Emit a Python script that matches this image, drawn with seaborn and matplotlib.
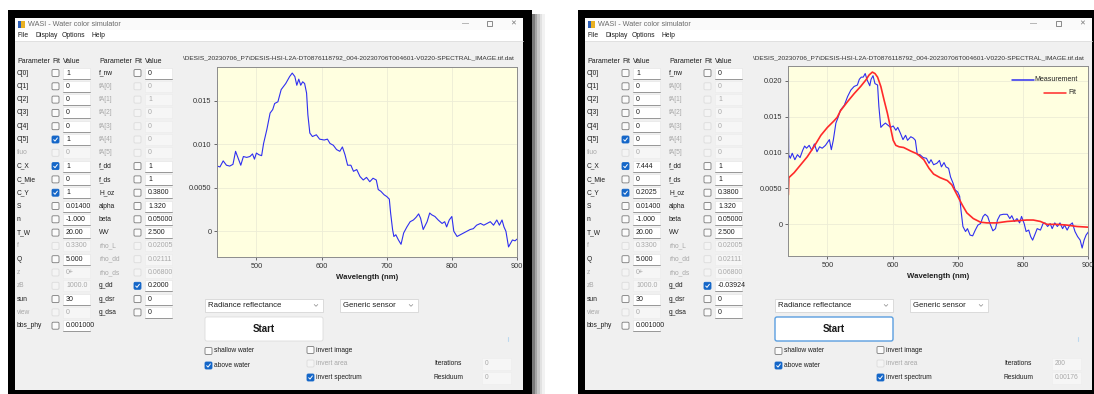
import numpy as np
import pandas as pd
import matplotlib
matplotlib.use("Agg")
import matplotlib.pyplot as plt
from matplotlib.patches import Rectangle, FancyBboxPatch
from matplotlib.lines import Line2D
import seaborn as sns

sns.set_theme(style="white")
plt.rcParams["font.family"] = ["Liberation Sans", "DejaVu Sans"]

# ---------------- spectra ----------------
# first run: measured spectrum only
wl_meas_a = [439.4, 439.6, 439.9, 444, 449, 454, 459, 464, 468, 472, 476, 480, 485, 490, 494, 497,
             500, 504, 508, 511, 516, 521, 525, 528, 533, 538, 545, 551, 555, 559, 562, 565, 568,
             571, 574, 577, 579, 582, 586, 592, 597, 604, 609, 613, 618, 623, 628, 632, 636, 640,
             645, 649, 654, 659, 664, 669, 674, 679, 684, 687, 691, 696, 700, 704, 706, 709, 711,
             714, 718, 722, 726, 731, 736, 741, 745, 749, 752, 756, 762, 766, 769, 774, 779, 785,
             789, 792, 796, 800, 803, 808, 813, 818, 823, 828, 833, 838, 844, 849, 854, 859, 864,
             869, 873, 877, 880, 883, 887, 890, 893, 897, 900]
r_meas_a = [0.0172, 0.0135, 0.0075, 0.0074, 0.0081, 0.0076, 0.0075, 0.0077, 0.0092, 0.0084, 0.0076,
            0.0086, 0.0085, 0.0086, 0.0089, 0.0083, 0.0090, 0.0088, 0.0087, 0.0101, 0.0117, 0.0136,
            0.0140, 0.0147, 0.0149, 0.0163, 0.0170, 0.0178, 0.0182, 0.0178, 0.0168, 0.0175, 0.0168,
            0.0172, 0.0170, 0.0159, 0.0134, 0.0113, 0.0109, 0.0111, 0.0106, 0.0105, 0.0106, 0.0101,
            0.0099, 0.0094, 0.0092, 0.0097, 0.0088, 0.0076, 0.0076, 0.0069, 0.0071, 0.0063, 0.0059,
            0.0062, 0.0057, 0.0061, 0.0059, 0.0048, 0.0046, 0.0042, 0.0040, 0.0037, 0.0021, 0.0002,
            -0.0006, -0.0004, -0.0010, -0.0015, -0.0002, 0.0005, 0.0011, 0.0013, 0.0016, 0.0020,
            0.0015, 0.0002, 0.0011, 0.0021, 0.0019, 0.0017, 0.0013, 0.0009, 0.0011, 0.0005, 0.0013,
            0.0017, 0.0000, -0.0006, -0.0004, -0.0002, 0.0000, 0.0002, 0.0003, 0.0007, 0.0009,
            0.0007, 0.0009, 0.0011, 0.0007, 0.0013, 0.0007, 0.0013, 0.0005, 0.0000, -0.0018,
            -0.0014, -0.0010, -0.0011, -0.0009]

# second run: measured spectrum and model fit
wl_meas_b = [440.1, 440.3, 440.6, 443, 446, 450, 454, 458, 462, 465, 468, 472, 476, 480, 484, 488,
             492, 497, 503, 506, 509, 513, 516, 520, 526, 531, 536, 541, 546, 549, 552, 555, 558,
             561, 565, 567, 570, 573, 577, 579, 582, 585, 589, 593, 597, 601, 605, 608, 612, 616,
             620, 623, 628, 632, 635, 638, 642, 647, 652, 656, 659, 663, 668, 672, 675, 679, 682,
             686, 689, 693, 696, 700, 703, 705, 708, 712, 715, 719, 723, 727, 731, 735, 739, 742,
             746, 750, 754, 758, 761, 765, 770, 776, 780, 783, 787, 791, 795, 798, 802, 805, 809,
             812, 815, 819, 822, 827, 831, 834, 838, 842, 845, 849, 853, 857, 861, 864, 868, 872,
             876, 880, 884, 888, 891, 894, 897, 901]
r_meas_b = [0.0201, 0.0159, 0.0097, 0.0092, 0.0099, 0.0090, 0.0097, 0.0093, 0.0103, 0.0109, 0.0106,
            0.0110, 0.0103, 0.0112, 0.0101, 0.0108, 0.0106, 0.0110, 0.0118, 0.0104, 0.0117, 0.0141,
            0.0148, 0.0159, 0.0166, 0.0178, 0.0187, 0.0192, 0.0194, 0.0202, 0.0205, 0.0205, 0.0210,
            0.0201, 0.0193, 0.0202, 0.0207, 0.0196, 0.0194, 0.0164, 0.0135, 0.0138, 0.0141, 0.0138,
            0.0135, 0.0137, 0.0131, 0.0135, 0.0127, 0.0118, 0.0124, 0.0117, 0.0122, 0.0120, 0.0117,
            0.0097, 0.0097, 0.0093, 0.0092, 0.0085, 0.0090, 0.0083, 0.0085, 0.0089, 0.0080, 0.0086,
            0.0080, 0.0078, 0.0066, 0.0057, 0.0048, 0.0045, 0.0039, 0.0020, -0.0003, -0.0010,
            -0.0006, -0.0015, -0.0016, -0.0008, -0.0001, 0.0001, 0.0011, 0.0014, 0.0011, 0.0000,
            -0.0009, -0.0006, 0.0006, 0.0013, 0.0014, 0.0014, 0.0008, 0.0012, 0.0004, 0.0008,
            0.0002, 0.0011, 0.0001, -0.0010, -0.0008, -0.0017, -0.0022, -0.0013, -0.0006, -0.0008,
            0.0001, 0.0002, -0.0003, 0.0001, -0.0006, 0.0002, -0.0003, 0.0002, -0.0006, -0.0001,
            -0.0008, -0.0001, 0.0002, -0.0010, -0.0017, -0.0022, -0.0033, -0.0022, -0.0015, -0.0010]

wl_fit = [440.0, 440.8, 449, 459, 469, 480, 490, 500, 510, 515, 520, 531, 541, 551, 559, 564, 569,
          573, 577, 582, 587, 592, 597, 601, 605, 610, 617, 628, 638, 648, 656, 663, 673, 684, 691,
          699, 707, 714, 724, 735, 745, 760, 776, 791, 806, 816, 827, 837, 852, 867, 883, 901]
r_fit = [0.0041, 0.0065, 0.0072, 0.0083, 0.0094, 0.0109, 0.0124, 0.0135, 0.0144, 0.0149, 0.0158,
         0.0171, 0.0182, 0.0192, 0.0201, 0.0208, 0.0212, 0.0210, 0.0205, 0.0192, 0.0173, 0.0155,
         0.0134, 0.0117, 0.0110, 0.0108, 0.0107, 0.0102, 0.0098, 0.0090, 0.0078, 0.0070, 0.0065,
         0.0061, 0.0055, 0.0041, 0.0027, 0.0016, 0.0008, 0.0003, 0.0002, 0.0002, 0.0004, 0.0005,
         0.0006, 0.0006, 0.0004, 0.0000, 0.0000, -0.0001, -0.0003, -0.0004]

x_ticks = [500, 600, 700, 800, 900]
y_ticks_a = [0.0, 0.005, 0.010, 0.015]
y_labels_a = ["0", "0.0050", "0.010", "0.015"]
y_ticks_b = [0.0, 0.005, 0.010, 0.015, 0.020]
y_labels_b = ["0", "0.0050", "0.010", "0.015", "0.020"]

file_title = ("\\DESIS_20230706_P7\\DESIS-HSI-L2A-DT0876118792_004-20230706T004601-"
              "V0220-SPECTRAL_IMAGE.tif.dat")

# ---------------- parameter panel contents ----------------
param_left = ["C[0]", "C[1]", "C[2]", "C[3]", "C[4]", "C[5]", "fluo", "C_X", "C_Mie", "C_Y",
              "S", "n", "T_W", "f", "Q", "z", "zB", "sun", "view", "bbs_phy"]
off_left = [False] * 6 + [True] + [False] * 6 + [True, False, True, True, False, True, False]
param_right = ["f_nw", "fA[0]", "fA[1]", "fA[2]", "fA[3]", "fA[4]", "fA[5]", "f_dd", "f_ds",
               "H_oz", "alpha", "beta", "WV", "rho_L", "rho_dd", "rho_ds", "g_dd", "g_dsr", "g_dsa"]
off_right = [False] + [True] * 6 + [False] * 6 + [True] * 3 + [False] * 3

vals_left_a = ["1", "0", "0", "0", "0", "1", "0", "1", "0", "1", "0.01400", "-1.000", "20.00",
               "0.3300", "5.000", "0+", "1000.0", "30", "0", "0.001000"]
vals_left_b = ["1", "0", "0", "0", "0", "0", "0", "7.444", "0", "0.2025", "0.01400", "-1.000",
               "20.00", "0.3300", "5.000", "0+", "1000.0", "30", "0", "0.001000"]
vals_right_a = ["0", "0", "1", "0", "0", "0", "0", "1", "1", "0.3800", "1.320", "0.05000",
                "2.500", "0.02005", "0.02111", "0.06800", "0.2000", "0", "0"]
vals_right_b = ["0", "0", "1", "0", "0", "0", "0", "1", "1", "0.3800", "1.320", "0.05000",
                "2.500", "0.02005", "0.02111", "0.06800", "-0.03924", "0", "0"]
fit_left = {"C[5]", "C_X", "C_Y"}
fit_right = {"g_dd"}

iterations = ["0", "200"]
residuum = ["0", "0.00176"]

# ---------------- figure ----------------
W, H = 1094, 394
fig = plt.figure(figsize=(W / 100, H / 100), dpi=100)
fig.patch.set_facecolor("white")
bg = fig.add_axes([0, 0, 1, 1], zorder=0)
bg.set_xlim(0, W)
bg.set_ylim(H, 0)
bg.axis("off")

TXT = "#1e1e1e"
GREY = "#a8a8a8"
BLUE = "#1466c8"


def rect(x0, y0, x1, y1, fc, ec="none", lw=0.8, z=1):
    bg.add_patch(Rectangle((x0, y0), x1 - x0, y1 - y0, facecolor=fc, edgecolor=ec, lw=lw, zorder=z))


def txt(x, y, s, size=5.0, color=TXT, weight="normal", ha="left", va="center", z=5):
    bg.text(x, y, s, fontsize=size, color=color, fontweight=weight, ha=ha, va=va, zorder=z)


def checkbox(x, y, checked=False, disabled=False):
    s = 7.0
    if checked:
        bg.add_patch(FancyBboxPatch((x, y - s / 2), s, s, boxstyle="round,pad=0,rounding_size=1.2",
                                    facecolor=BLUE, edgecolor=BLUE, lw=0.6, zorder=4))
        bg.plot([x + 1.7, x + 3.0, x + 5.4], [y + 0.2, y + 1.6, y - 1.6], color="white", lw=0.7, zorder=5)
    else:
        ec = "#dcdcdc" if disabled else "#7a7a7a"
        fc = "#f4f4f4" if disabled else "#fbfbfb"
        bg.add_patch(FancyBboxPatch((x, y - s / 2), s, s, boxstyle="round,pad=0,rounding_size=1.2",
                                    facecolor=fc, edgecolor=ec, lw=0.6, zorder=4))


def valuebox(x0, x1, y, s, disabled=False):
    if disabled:
        rect(x0, y - 5.5, x1, y + 5.5, "#f6f6f6", "#ececec", 0.5, z=3)
        txt(x0 + 3, y, s, color=GREY)
    else:
        rect(x0, y - 5.5, x1, y + 5.5, "white", "#e6e6e6", 0.5, z=3)
        bg.plot([x0, x1], [y + 5.5, y + 5.5], color="#8a8a8a", lw=0.6, zorder=4)
        txt(x0 + 3, y, s)


def window(dx, xr, vl, vr, iters, resid, focused):
    # frame, shadow and chrome
    rect(8 + dx, 10, xr + 9, H, "black", z=0.5)
    if dx == 0:
        for i, c in enumerate(["#7a7a7a", "#a6a6a6", "#c8c8c8", "#e2e2e2", "#f2f2f2"]):
            rect(xr + 9 + i * 2.6, 14, xr + 9 + (i + 1) * 2.6, H, c, z=0.4)
    rect(15 + dx, 18, xr, 390, "#f0f0f0", z=0.8)
    rect(15 + dx, 18, xr, 30, "#fafafa", z=0.9)
    rect(15 + dx, 30, xr, 41, "white", z=0.9)
    bg.plot([15 + dx, xr], [41.3, 41.3], color="#dedede", lw=0.6, zorder=1)
    # title bar
    rect(18 + dx, 20.5, 21 + dx, 27.5, "#2d5fb8", z=2)
    rect(21 + dx, 20.5, 24.5 + dx, 27.5, "#e8b020", z=2)
    txt(28 + dx, 24, "WASI - Water color simulator", 5.2, "#6a6a6a")
    txt(xr - 58, 23.5, "\u2014", 5.0, "#777777", ha="center")
    rect(xr - 36.5, 20.8, xr - 31.5, 25.8, "none", "#777777", 0.6, z=5)
    txt(xr - 10, 24, "\u2715", 5.0, "#777777", ha="center")
    # menu
    for mx, m in zip([18, 36, 62, 91], ["File", "Display", "Options", "Help"]):
        txt(mx + dx, 35.5, m, 4.9)

    # parameter table
    for cx in (17, 99):
        txt(cx + dx, 61, "Parameter", 5.0)
        txt(cx + 35 + dx, 61, "Fit", 5.0)
        txt(cx + 46 + dx, 61, "Value", 5.0)
    row0, step = 73.0, 13.3
    for i, name in enumerate(param_left):
        y = row0 + i * step
        off = off_left[i]
        txt(17 + dx, y, name, 4.8, GREY if off else TXT)
        checkbox(52 + dx, y, name in fit_left, off)
        valuebox(63 + dx, 90 + dx, y, vl[0][i], off)
    for i, name in enumerate(param_right):
        y = row0 + i * step
        off = off_right[i]
        txt(99 + dx, y, name, 4.8, GREY if off else TXT)
        checkbox(134 + dx, y, name in fit_right, off)
        valuebox(145 + dx, 172 + dx, y, vr[0][i], off)

    # controls under the chart
    for x0, x1, label in [(205, 323, "Radiance reflectance"), (340, 418, "Generic sensor")]:
        rect(x0 + dx, 299, x1 + dx, 312, "white", "#d6d6d6", 0.6, z=3)
        txt(x0 + 3 + dx, 305.5, label, 5.6)
        cx = x1 - 7 + dx
        bg.plot([cx - 1.8, cx, cx + 1.8], [304.5, 306.3, 304.5], color="#8a8a8a", lw=0.5, zorder=4)
    if focused:
        bg.add_patch(FancyBboxPatch((205 + dx, 317), 118, 24, boxstyle="round,pad=0,rounding_size=2",
                                    facecolor="white", edgecolor="#5a9ee0", lw=1.0, zorder=3))
    else:
        bg.add_patch(FancyBboxPatch((205 + dx, 317), 118, 24, boxstyle="round,pad=0,rounding_size=2",
                                    facecolor="white", edgecolor="#dcdcdc", lw=0.6, zorder=3))
    txt(264 + dx, 329, "Start", 7.0, "#1a1a1a", "bold", ha="center")
    bg.plot([508 + dx, 508 + dx], [337, 341], color="#bcd8ee", lw=0.8, zorder=3)

    checkbox(205 + dx, 351, False)
    txt(214 + dx, 351, "shallow water", 4.8)
    checkbox(205 + dx, 365.5, True)
    txt(214 + dx, 365.5, "above water", 4.8)
    checkbox(307 + dx, 350, False)
    txt(316 + dx, 350, "invert image", 4.8)
    checkbox(307 + dx, 363.5, False, True)
    txt(316 + dx, 363.5, "invert area", 4.8, GREY)
    checkbox(307 + dx, 377.5, True)
    txt(316 + dx, 377.5, "invert spectrum", 4.8)
    txt(434 + dx, 363.5, "Iterations", 4.8)
    txt(434 + dx, 377.5, "Residuum", 4.8)
    rect(482 + dx, 357.5, 511 + dx, 369.5, "#f6f6f6", "#ececec", 0.4, z=3)
    rect(482 + dx, 371.5, 511 + dx, 383.5, "#f6f6f6", "#ececec", 0.4, z=3)
    txt(485 + dx, 363.5, iters, 4.8, GREY)
    txt(485 + dx, 377.5, resid, 4.8, GREY)

    # file name above the chart
    txt(183 + dx, 58, file_title, 4.68, "#303030")


window(0, 523, (vals_left_a,), (vals_right_a,), iterations[0], residuum[0], False)
window(570, 1092, (vals_left_b,), (vals_right_b,), iterations[1], residuum[1], True)


def spectrum_axes(left, right, top, bottom, ylim, yt, yl):
    ax = fig.add_axes([left / W, (H - bottom) / H, (right - left) / W, (bottom - top) / H], zorder=2)
    ax.set_facecolor("#ffffe0")
    ax.set_xlim(439.5, 900)
    ax.set_ylim(*ylim)
    ax.set_xticks(x_ticks)
    ax.set_xticklabels([str(t) for t in x_ticks])
    ax.set_yticks(yt)
    ax.set_yticklabels(yl)
    ax.tick_params(axis="both", labelsize=5.3, colors="#333333", length=2, width=0.5, pad=2,
                   direction="out", bottom=True, left=True)
    ax.grid(True, color="#ececd6", lw=0.6)
    for s in ax.spines.values():
        s.set_color("#8c8c8c")
        s.set_linewidth(0.7)
    return ax


def finish(ax):
    ax.set_xlabel("Wavelength (nm)", fontsize=5.6, fontweight="bold", color="#222222", labelpad=3)
    ax.set_ylabel("")


ax1 = spectrum_axes(217, 517, 67, 257, (-0.00296, 0.0189), y_ticks_a, y_labels_a)
df_a = pd.DataFrame({"wl": wl_meas_a, "r": r_meas_a})
sns.lineplot(data=df_a, x="wl", y="r", ax=ax1, color="#2f2ff0", lw=0.8, estimator=None, sort=False)
finish(ax1)

ax2 = spectrum_axes(788, 1088, 66, 256, (-0.00441, 0.02205), y_ticks_b, y_labels_b)
df_b = pd.DataFrame({"wl": wl_meas_b, "r": r_meas_b})
df_f = pd.DataFrame({"wl": wl_fit, "r": r_fit})
sns.lineplot(data=df_b, x="wl", y="r", ax=ax2, color="#2f2ff0", lw=0.8, estimator=None, sort=False)
sns.lineplot(data=df_f, x="wl", y="r", ax=ax2, color="#ff2a2a", lw=1.2, estimator=None, sort=False)
finish(ax2)

# series key, drawn in axes coordinates
for yk, col, lab in [(0.927, "#2f2ff0", "Measurement"), (0.858, "#ff2a2a", "Fit")]:
    x_end = 0.82 if lab == "Measurement" else 0.925
    ax2.add_line(Line2D([x_end - 0.072, x_end], [yk, yk], transform=ax2.transAxes, color=col, lw=1.1))
    ax2.text(0.965 if lab == "Measurement" else 0.96, yk, lab, transform=ax2.transAxes, fontsize=5.0,
             ha="right", va="center", color="#222222")

fig.savefig("out.png", dpi=100, facecolor=fig.get_facecolor())
